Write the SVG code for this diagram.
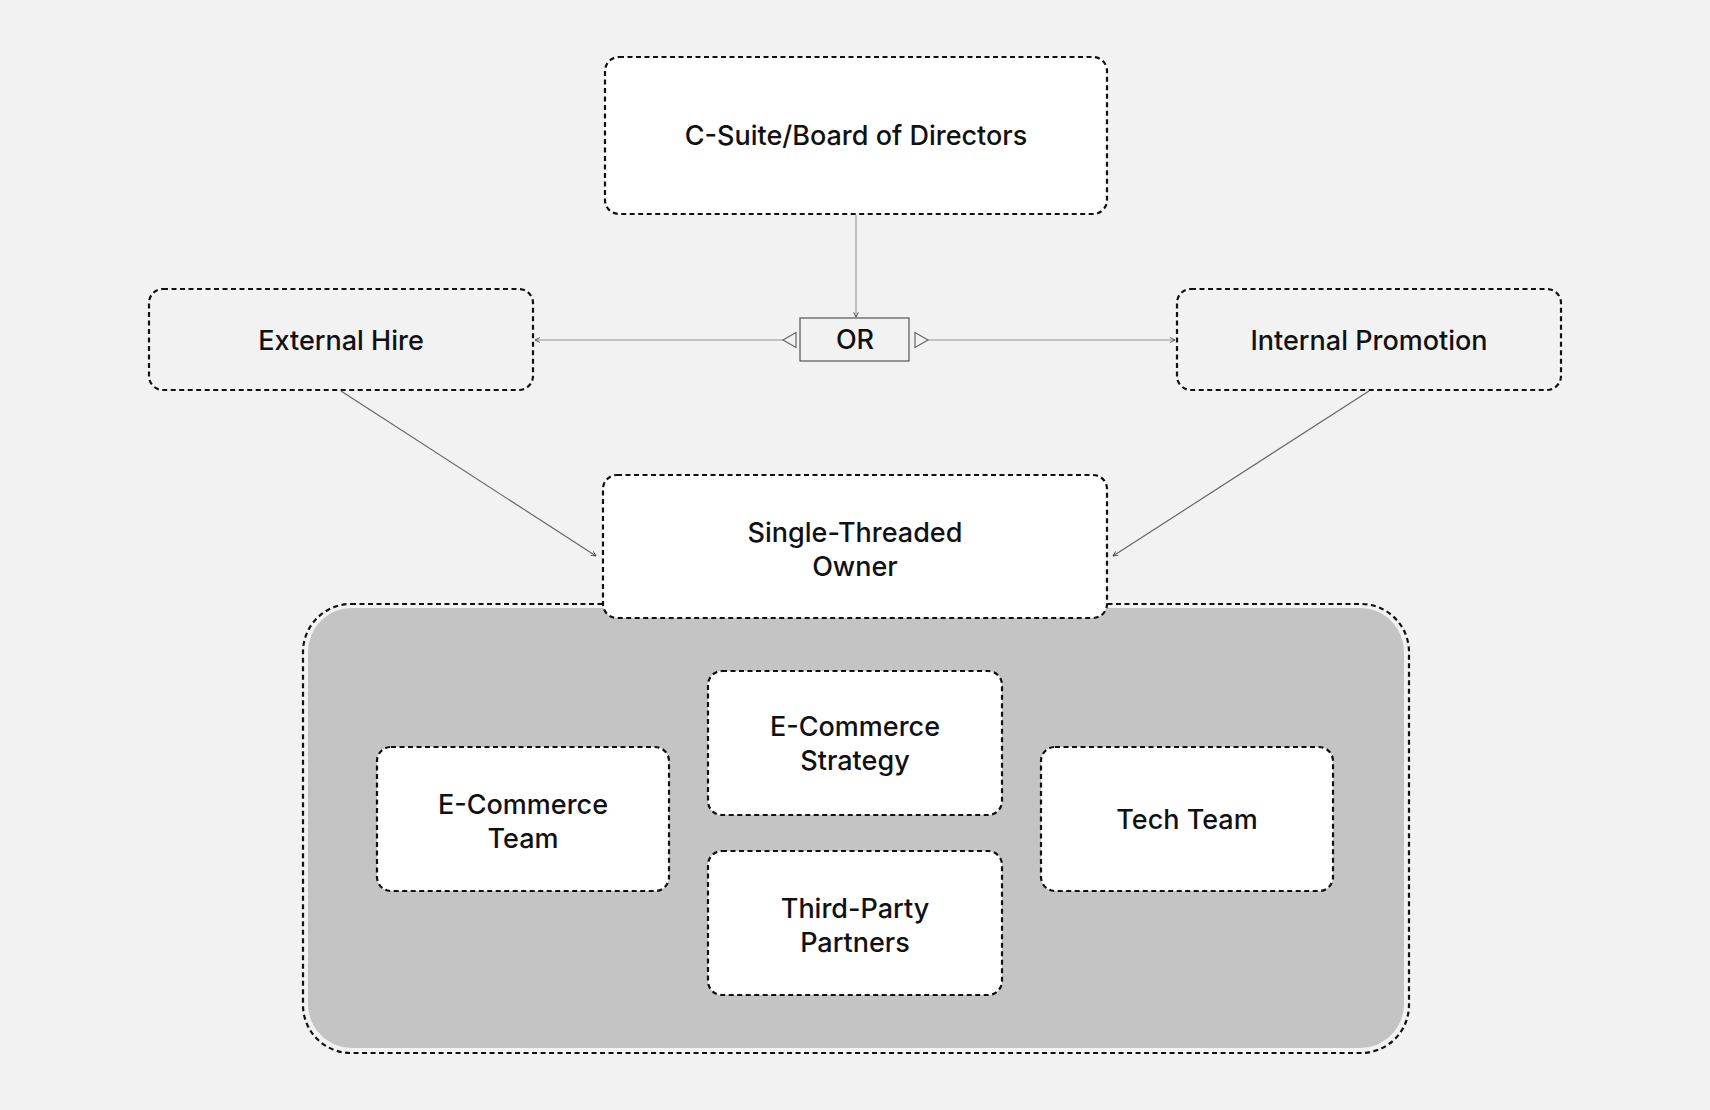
<svg xmlns="http://www.w3.org/2000/svg" width="1710" height="1110" viewBox="0 0 1710 1110">
  <style>
    .node { fill: #ffffff; stroke: #111111; stroke-width: 2.2; stroke-dasharray: 5 3.5; }
    .ghost { fill: #f2f2f2; stroke: #111111; stroke-width: 2.2; stroke-dasharray: 5 3.5; }
    .lbl { font-family: Inter, "Noto Sans", "Liberation Sans", sans-serif; font-size: 27px; font-weight: 500; fill: #111111; text-anchor: middle; }
    .lite { stroke: #b0b0b0; stroke-width: 1.5; fill: none; }
    .dark { stroke: #666666; stroke-width: 1.2; fill: none; }
  </style>
  <defs>
    <marker id="arr" viewBox="0 0 10 10" refX="9" refY="5" markerWidth="6" markerHeight="6" markerUnits="userSpaceOnUse" orient="auto">
      <path d="M1,1 L9,5 L1,9" fill="none" stroke="#444444" stroke-width="1.5"/>
    </marker>
  </defs>
  <rect x="0" y="0" width="1710" height="1110" fill="#f2f2f2"/>

  <g id="container">
    <rect class="ghost" x="303" y="604" width="1106" height="449" rx="48"/>
    <rect x="308" y="608" width="1096" height="440" rx="44" fill="#c4c4c4"/>
  </g>

  <g id="connectors">
    <line class="lite" x1="856" y1="215" x2="856" y2="317" marker-end="url(#arr)"/>
    <line class="lite" x1="783" y1="340" x2="535" y2="340" marker-end="url(#arr)"/>
    <line class="lite" x1="928" y1="340" x2="1175" y2="340" marker-end="url(#arr)"/>
    <polygon points="783,340 796,332.5 796,347.5" fill="#f2f2f2" stroke="#666666" stroke-width="1.2"/>
    <polygon points="928,340 915,332.5 915,347.5" fill="#f2f2f2" stroke="#666666" stroke-width="1.2"/>
    <line class="dark" x1="341" y1="391" x2="596" y2="556" marker-end="url(#arr)"/>
    <line class="dark" x1="1369" y1="391" x2="1113" y2="556" marker-end="url(#arr)"/>
  </g>

  <g id="csuite">
    <rect class="node" x="605" y="57" width="502" height="157" rx="14"/>
    <text class="lbl" x="856" y="145">C-Suite/Board of Directors</text>
  </g>

  <g id="or">
    <rect x="800" y="318" width="109" height="43" fill="#f2f2f2" stroke="#555555" stroke-width="1.2"/>
    <text class="lbl" x="855" y="349">OR</text>
  </g>

  <g id="external-hire">
    <rect class="ghost" x="149" y="289" width="384" height="101" rx="14"/>
    <text class="lbl" x="341" y="350">External Hire</text>
  </g>

  <g id="internal-promotion">
    <rect class="ghost" x="1177" y="289" width="384" height="101" rx="14"/>
    <text class="lbl" x="1369" y="350">Internal Promotion</text>
  </g>

  <g id="single-threaded-owner">
    <rect class="node" x="603" y="475" width="504" height="143" rx="14"/>
    <text class="lbl" x="855" y="542">Single-Threaded</text>
    <text class="lbl" x="855" y="576">Owner</text>
  </g>

  <g id="ecommerce-team">
    <rect class="node" x="377" y="747" width="292" height="144" rx="14"/>
    <text class="lbl" x="523" y="814">E-Commerce</text>
    <text class="lbl" x="523" y="848">Team</text>
  </g>

  <g id="ecommerce-strategy">
    <rect class="node" x="708" y="671" width="294" height="144" rx="14"/>
    <text class="lbl" x="855" y="736">E-Commerce</text>
    <text class="lbl" x="855" y="770">Strategy</text>
  </g>

  <g id="third-party-partners">
    <rect class="node" x="708" y="851" width="294" height="144" rx="14"/>
    <text class="lbl" x="855" y="918">Third-Party</text>
    <text class="lbl" x="855" y="952">Partners</text>
  </g>

  <g id="tech-team">
    <rect class="node" x="1041" y="747" width="292" height="144" rx="14"/>
    <text class="lbl" x="1187" y="829">Tech Team</text>
  </g>
</svg>
